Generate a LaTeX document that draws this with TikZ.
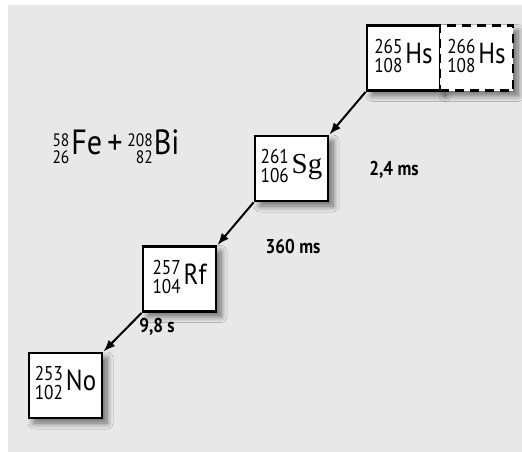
\documentclass[tikz,border=0pt]{standalone}
\usepackage{fontspec}
\setmainfont{PT Sans}[FakeStretch=0.86]
\newfontfamily\serifsym{Liberation Serif}
\usepackage{tikz}
\usetikzlibrary{positioning}
\usetikzlibrary{shadows.blur}
\usetikzlibrary{arrows.meta}
\tikzset{every picture/.style={line width=2pt},
  nuclbox/.style={draw,line width=2.8pt,fill=white,minimum width=73pt,minimum height=65pt,inner sep=0pt,
    blur shadow={shadow xshift=5pt,shadow yshift=-5pt,shadow blur steps=10,shadow blur radius=6pt,shadow opacity=55}},
  decay/.style={-{Latex[length=12pt,width=9pt]}},
  decaytime/.style={font=\fontsize{20}{20}\selectfont\bfseries}}
\newcommand{\stk}[3]{{\fontsize{#3}{#3}\selectfont\renewcommand{\arraystretch}{0.8}\begin{tabular}[c]{@{}r@{}}#1\\#2\end{tabular}}}
\newcommand{\nucl}[3]{\stk{#1}{#2}{20}\hspace{3pt}{\fontsize{29}{29}\selectfont #3}}

\begin{document}
\begin{tikzpicture}[x=1pt,y=-1pt]
\useasboundingbox (0,0) rectangle (522,452);
\fill[black!9] (8,5) rectangle (522,452);
\node[nuclbox] (hs) at (403.5,58) {\nucl{265}{108}{Hs}};
\node[nuclbox,dashed,dash pattern=on 9pt off 6pt] (hsb) at (476.5,58) {\nucl{266}{108}{Hs}};
\node[nuclbox] (sg) at (291.5,168.5) {\nucl{261}{106}{\serifsym Sg}};
\node[nuclbox] (rf) at (179.5,279) {\nucl{257}{104}{Rf}};
\node[nuclbox] (no) at (65.5,385.5) {\nucl{253}{102}{No}};
% decay chain
\draw[decay] (hs.south west) -- (sg.north east);
\draw[decay] (sg.south west) -- (rf.north east);
\draw[decay] (rf.south west) -- (no.north east);
\node[decaytime] (t1) at (394,170) {2,4 ms};
\node[decaytime] (t2) at (293,246) {360 ms};
\node[decaytime] (t3) at (157,327) {9,8 s};
% reaction
\node (fusion) at (116,149) {\stk{58}{26}{18}\hspace{2pt}{\fontsize{35}{35}\selectfont Fe}\hspace{5pt}{\fontsize{35}{35}\selectfont +}\hspace{5pt}\stk{208}{82}{18}\hspace{1pt}{\fontsize{35}{35}\selectfont Bi}};
\end{tikzpicture}
\end{document}
